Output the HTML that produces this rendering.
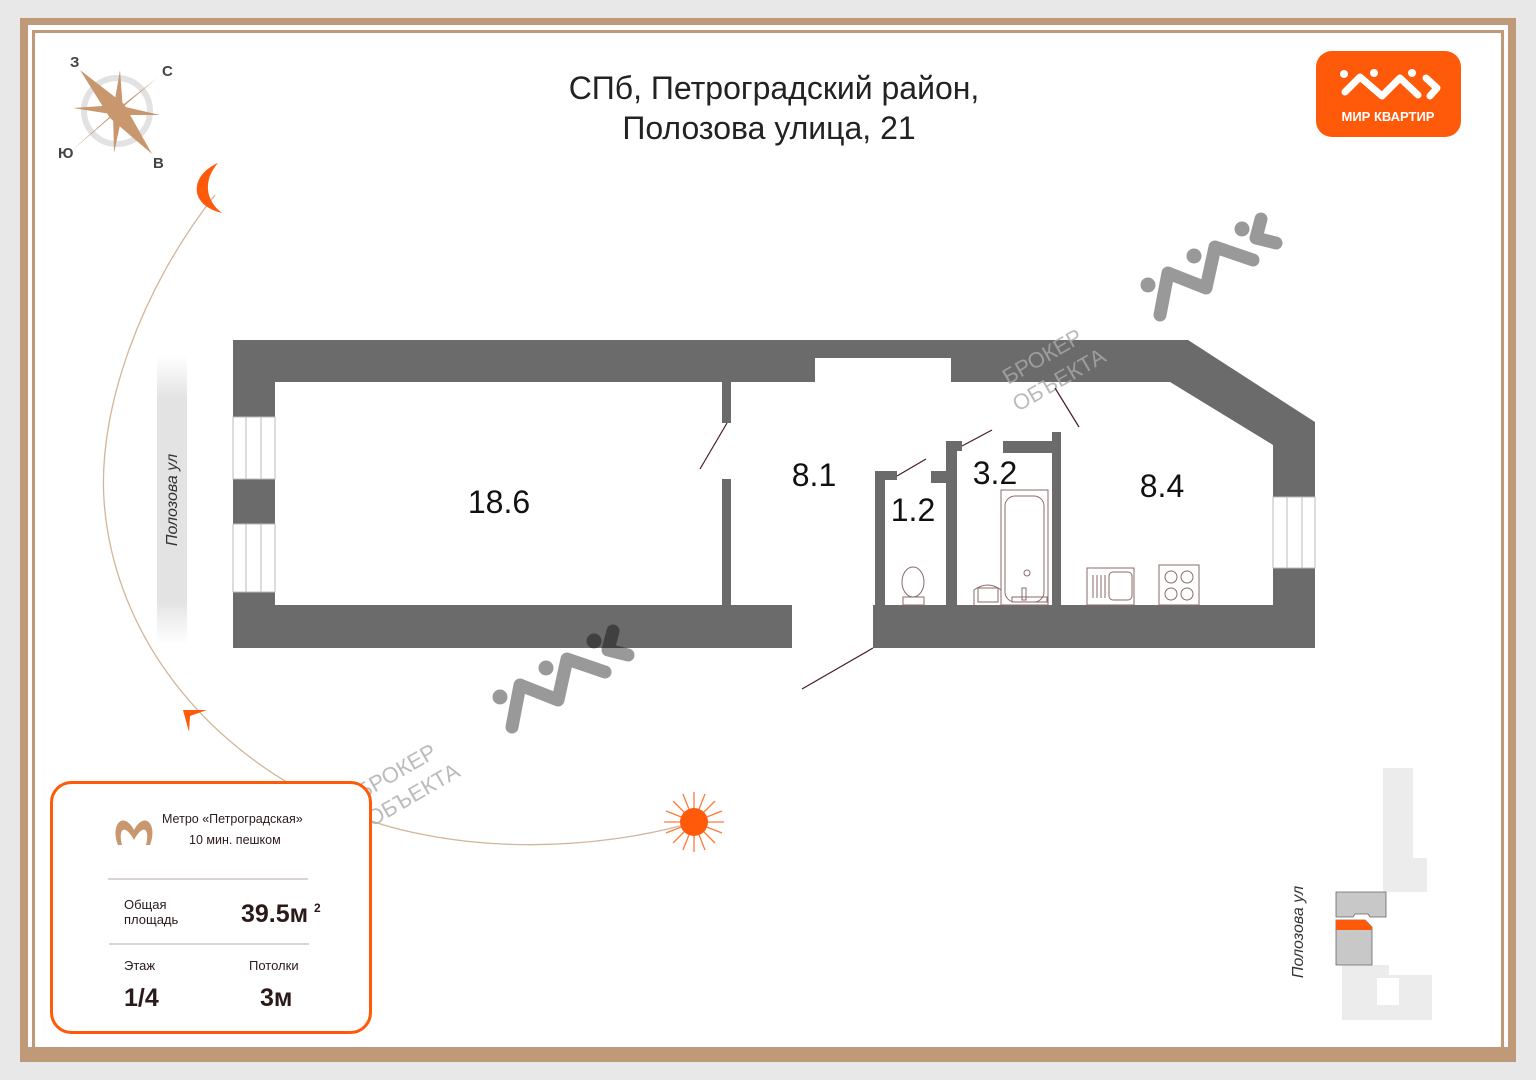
<!DOCTYPE html>
<html><head><meta charset="utf-8"><style>
html,body{margin:0;padding:0;background:#e8e8e8;}
body{width:1536px;height:1080px;position:relative;overflow:hidden;font-family:"Liberation Sans",sans-serif;}
</style></head><body>
<svg width="1536" height="1080" viewBox="0 0 1536 1080" xmlns="http://www.w3.org/2000/svg" style="position:absolute;left:0;top:0">
<defs>
<linearGradient id="st" x1="0" y1="0" x2="0" y2="1">
<stop offset="0" stop-color="#e6e6e6" stop-opacity="0"/><stop offset="0.15" stop-color="#e3e3e3"/><stop offset="0.85" stop-color="#e3e3e3"/><stop offset="1" stop-color="#e6e6e6" stop-opacity="0"/>
</linearGradient>
<g id="wm">
<path d="M512,727 L520,685 L558,700 L567,659 L605,672" fill="none" stroke-width="13" stroke-linecap="round" stroke-linejoin="round"/>
<path d="M613,631 L608,650 L628,655" fill="none" stroke-width="13" stroke-linecap="round" stroke-linejoin="round"/>
<circle cx="500" cy="697" r="7"/><circle cx="546" cy="668" r="7"/><circle cx="594" cy="641" r="7"/>
</g>
</defs>
<rect x="20" y="18" width="1496" height="1044" fill="#c09a78"/>
<rect x="28" y="25" width="1480" height="1022" fill="#fff"/>
<rect x="33.5" y="31.5" width="1469" height="1017" fill="none" stroke="#c09a78" stroke-width="3"/>

<!-- sun path -->
<path d="M215,195 C140,290 98,410 104,500 C112,620 190,740 330,805 C450,860 600,850 694,822" fill="none" stroke="#d2b59a" stroke-width="1.3"/>
<path d="M183,710 L207,710 L190,716 L189,732 Z" fill="#ff5a0a"/>
<!-- moon -->
<path d="M218,163 C190,175 188,205 222,213 C205,200 203,180 218,163 Z" fill="#ff5a0a"/>
<!-- sun -->
<g stroke="#ff7a3a" stroke-width="1.3">
<line x1="694" y1="792" x2="694" y2="852"/><line x1="664" y1="822" x2="724" y2="822"/>
<line x1="673" y1="801" x2="715" y2="843"/><line x1="715" y1="801" x2="673" y2="843"/>
<line x1="683" y1="794" x2="705" y2="850"/><line x1="705" y1="794" x2="683" y2="850"/>
<line x1="666" y1="811" x2="722" y2="833"/><line x1="666" y1="833" x2="722" y2="811"/>
</g>
<circle cx="694" cy="822" r="14" fill="#ff5a0a"/>

<!-- compass -->
<circle cx="117" cy="111" r="33" fill="none" stroke="#e2e2e2" stroke-width="6"/>
<g fill="#c8976e">
<polygon points="80,70 124,104 110,118"/><polygon points="157,78 124,104 110,118"/>
<polygon points="70,152 110,118 124,104"/><polygon points="152,154 110,118 124,104"/>
<polygon points="120,70 123,111 113,111"/><polygon points="114,153 113,111 123,111"/>
<polygon points="73,108 117,105 117,115"/><polygon points="160,115 117,115 117,105"/>
</g>
<g font-weight="bold" font-size="15" fill="#444">
<text x="70" y="67">З</text><text x="162" y="76">С</text><text x="58" y="158">Ю</text><text x="153" y="168">В</text>
</g>

<!-- title -->
<text x="774" y="99" text-anchor="middle" font-size="32" fill="#222">СПб, Петроградский район,</text>
<text x="769" y="139" text-anchor="middle" font-size="32" fill="#222">Полозова улица, 21</text>

<!-- logo -->
<rect x="1316" y="51" width="145" height="86" rx="16" fill="#ff5a0a"/>
<g stroke="#fff" fill="none" stroke-width="7" stroke-linecap="round" stroke-linejoin="round">
<path d="M1345,92 L1360,77 L1382,96 L1400,78 L1418,95"/><path d="M1426,78 L1437,88 L1430,96"/>
</g>
<g fill="#fff"><circle cx="1344" cy="74" r="4"/><circle cx="1374" cy="73" r="4"/><circle cx="1412" cy="73" r="4"/></g>
<text x="1388" y="121" text-anchor="middle" font-size="13" font-weight="bold" fill="#fff">МИР КВАРТИР</text>

<!-- street left -->
<rect x="157" y="355" width="30" height="290" fill="url(#st)"/>
<text transform="translate(177,500) rotate(-90)" text-anchor="middle" font-size="16" font-style="italic" fill="#333">Полозова ул</text>

<!-- floor plan walls -->
<g fill="#6b6b6b">
<path d="M233,340 L1188,340 L1315,422 L1315,648 L873,648 L873,605 L1273,605 L1273,445 L1170,382 L951,382 L951,358 L815,358 L815,382 L275,382 L275,605 L792,605 L792,648 L233,648 Z"/>
<rect x="722" y="382" width="9" height="41"/><rect x="722" y="479" width="9" height="126"/>
<rect x="875" y="471" width="10" height="134"/><rect x="875" y="471" width="22" height="9"/>
<rect x="946" y="441" width="11" height="164"/><rect x="931" y="471" width="15" height="12"/><rect x="946" y="441" width="16" height="10"/>
<rect x="1003" y="441" width="50" height="12"/><rect x="1052" y="432" width="9" height="173"/>
</g>

<!-- watermarks -->
<g fill="#000" stroke="#000" opacity="0.4">
<use href="#wm"/>
<use href="#wm" transform="translate(648,-412)"/>
</g>
<g fill="#aaa" font-size="22" opacity="0.8">
<text transform="translate(1008,385) rotate(-30)">БРОКЕР</text><text transform="translate(1018,412) rotate(-30)">ОБЪЕКТА</text>
<text transform="translate(362,800) rotate(-30)">БРОКЕР</text><text transform="translate(372,827) rotate(-30)">ОБЪЕКТА</text>
</g>

<!-- windows -->
<g fill="#fff" stroke="#bbb" stroke-width="1">
<rect x="233" y="417" width="42" height="62"/><rect x="233" y="524" width="42" height="68"/>
<rect x="1273" y="497" width="42" height="71"/>
</g>
<g stroke="#bbb" stroke-width="1">
<line x1="246" y1="417" x2="246" y2="479"/><line x1="261" y1="417" x2="261" y2="479"/>
<line x1="246" y1="524" x2="246" y2="592"/><line x1="261" y1="524" x2="261" y2="592"/>
<line x1="1287" y1="497" x2="1287" y2="568"/><line x1="1302" y1="497" x2="1302" y2="568"/>
</g>
<!-- doors -->
<g stroke="#4a1a22" stroke-width="1.2">
<line x1="727" y1="423" x2="700" y2="469"/><line x1="897" y1="476" x2="926" y2="459"/>
<line x1="962" y1="446" x2="992" y2="430"/><line x1="1055" y1="388" x2="1079" y2="427"/>
<line x1="873" y1="648" x2="802" y2="689"/>
</g>
<!-- fixtures -->
<g fill="none" stroke="#8a6a6a" stroke-width="1">
<rect x="1001" y="490" width="47" height="115"/><rect x="1005" y="496" width="39" height="106" rx="10"/>
<circle cx="1027" cy="573" r="3"/><rect x="1022" y="588" width="4" height="12"/><rect x="1012" y="597" width="35" height="5"/>
<path d="M974,605 L974,590 Q988,580 1001,590 L1001,605"/><rect x="978" y="588" width="20" height="14"/>
<ellipse cx="913" cy="582" rx="11" ry="15"/><rect x="903" y="597" width="21" height="8"/>
<rect x="1087" y="568" width="47" height="37"/><rect x="1109" y="572" width="23" height="28" rx="4"/>
<rect x="1159" y="565" width="40" height="40"/>
<circle cx="1171" cy="577" r="6"/><circle cx="1187" cy="577" r="6"/><circle cx="1171" cy="594" r="6"/><circle cx="1187" cy="594" r="6"/>
</g>
<g stroke="#8a6a6a" stroke-width="1"><line x1="1093" y1="575" x2="1093" y2="598"/><line x1="1097" y1="575" x2="1097" y2="598"/><line x1="1101" y1="575" x2="1101" y2="598"/><line x1="1105" y1="575" x2="1105" y2="598"/></g>
<!-- room labels -->
<g font-size="32" fill="#111">
<text x="499" y="513" text-anchor="middle">18.6</text><text x="814" y="486" text-anchor="middle">8.1</text>
<text x="913" y="521" text-anchor="middle">1.2</text><text x="995" y="484" text-anchor="middle">3.2</text>
<text x="1162" y="497" text-anchor="middle">8.4</text>
</g>

<!-- minimap -->
<g fill="#ececec">
<rect x="1383" y="768" width="30" height="124"/><rect x="1383" y="858" width="44" height="34"/>
<path d="M1342,965 L1389,965 L1389,975 L1432,975 L1432,1020 L1342,1020 Z"/>
</g>
<rect x="1377" y="978" width="22" height="27" fill="#fff"/>
<path d="M1336,892 L1386,892 L1386,917 L1370,917 L1368,914 L1355,914 L1353,917 L1336,917 Z" fill="#c8c8c8" stroke="#666" stroke-width="0.8"/>
<path d="M1336,920 L1365,920 L1372,927 L1372,965 L1336,965 Z" fill="#c8c8c8" stroke="#666" stroke-width="0.8"/>
<path d="M1336,920 L1365,920 L1372,927 L1372,930 L1336,930 Z" fill="#ff5a0a"/>
<text transform="translate(1303,932) rotate(-90)" text-anchor="middle" font-size="16" font-style="italic" fill="#333">Полозова ул</text>

<!-- info box -->
<rect x="51.5" y="782.5" width="319" height="250" rx="20" fill="#fff" stroke="#ff5a0a" stroke-width="3"/>
<path d="M118,845 C110,825 123,810 134,830 C145,810 158,825 150,845 L146,845 C150,830 144,822 134,840 C124,822 118,830 122,845 Z" fill="#c8976e"/>
<text x="162" y="823" font-size="12.5" fill="#2a1a1a">Метро «Петроградская»</text>
<text x="189" y="844" font-size="12.5" fill="#2a1a1a">10 мин. пешком</text>
<line x1="108" y1="879" x2="308" y2="879" stroke="#b8a8a8"/>
<text x="124" y="909" font-size="13" fill="#2a1a1a">Общая</text><text x="124" y="924" font-size="13" fill="#2a1a1a">площадь</text>
<text x="241" y="922" font-size="25" font-weight="bold" fill="#2a1a1a">39.5м</text><text x="314" y="912" font-size="12" font-weight="bold" fill="#2a1a1a">2</text>
<line x1="109" y1="944" x2="309" y2="944" stroke="#b8a8a8"/>
<text x="124" y="970" font-size="13" fill="#2a1a1a">Этаж</text><text x="249" y="970" font-size="13" fill="#2a1a1a">Потолки</text>
<text x="124" y="1006" font-size="25" font-weight="bold" fill="#2a1a1a">1/4</text><text x="260" y="1006" font-size="25" font-weight="bold" fill="#2a1a1a">3м</text>
</svg>
</body></html>
